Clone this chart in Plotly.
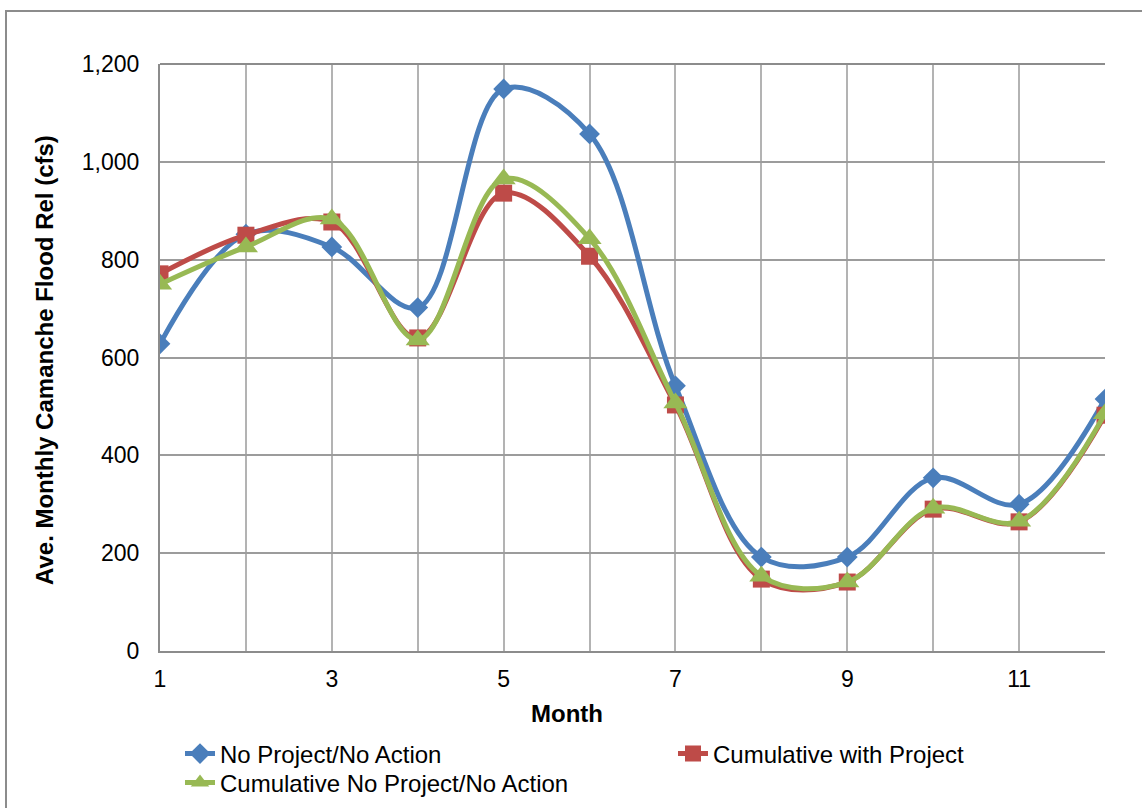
import plotly.graph_objects as go

# Monthly average Camanche flood releases (cfs)
months = list(range(1, 13))
no_project = [628, 852, 826, 702, 1149, 1057, 542, 192, 192, 354, 300, 515]
cum_with_project = [771, 850, 877, 640, 936, 807, 503, 147, 141, 290, 264, 482]
cum_no_project = [750, 826, 883, 636, 965, 843, 507, 153, 141, 292, 265, 485]

series = [
    ("No Project/No Action", no_project, "#4A7EBB", "diamond", 16, "legend"),
    ("Cumulative with Project", cum_with_project, "#BE4B48", "square", 17, "legend2"),
    ("Cumulative No Project/No Action", cum_no_project, "#98B954", "triangle-up", 21, "legend3"),
]

x_tickvals = months
x_ticktext = [str(m) if m % 2 == 1 else "" for m in months]
y_tickvals = [0, 200, 400, 600, 800, 1000, 1200]

FONT = "Liberation Sans, Arial, sans-serif"
W, H = 1142, 808
L, R, T, B = 160, 37, 64, 157
pw, ph = W - L - R, H - T - B

fig = go.Figure()
for name, vals, color, symbol, size, leg in series:
    fig.add_trace(go.Scatter(
        x=months, y=vals, name=name, mode="lines+markers", legend=leg,
        line=dict(color=color, width=5, shape="spline", smoothing=1.0),
        marker=dict(symbol=symbol, size=size, color=color),
    ))


def legend_at(px, py):
    return dict(
        xref="container", yref="container",
        x=px / W, xanchor="left", y=1 - py / H, yanchor="middle",
        font=dict(family=FONT, size=24, color="black"),
        bgcolor="rgba(0,0,0,0)", borderwidth=0,
    )


fig.update_layout(
    width=W, height=H,
    margin=dict(l=L, r=R, t=T, b=B, pad=0, autoexpand=False),
    paper_bgcolor="white", plot_bgcolor="white",
    font=dict(family=FONT, size=23, color="black"),
    showlegend=True,
    legend=legend_at(180, 754),
    legend2=legend_at(673, 754),
    legend3=legend_at(180, 783),
    xaxis=dict(
        range=[1, 12], tickmode="array", tickvals=x_tickvals, ticktext=x_ticktext,
        showgrid=True, gridcolor="#B3B3B3", gridwidth=1.5,
        showline=True, linecolor="#8C8C8C", linewidth=2,
        ticks="", zeroline=False, ticklabelstandoff=6,
        tickfont=dict(family=FONT, size=23),
    ),
    yaxis=dict(
        range=[0, 1200], tickmode="array", tickvals=y_tickvals,
        tickformat=",d",
        showgrid=True, gridcolor="#9C9C9C", gridwidth=1.5,
        showline=True, linecolor="#8C8C8C", linewidth=2,
        ticks="", zeroline=False, ticklabelstandoff=14,
        tickfont=dict(family=FONT, size=23),
    ),
)

# axis titles
fig.add_annotation(
    text="<b>Month</b>", xref="paper", yref="paper",
    x=(567 - L) / pw, y=-(713 - (H - B)) / ph, xanchor="center", yanchor="middle",
    showarrow=False, font=dict(family=FONT, size=24, color="black"),
)
fig.add_annotation(
    text="<b>Ave. Monthly Camanche Flood Rel (cfs)</b>", xref="paper", yref="paper",
    x=-(L - 45) / pw, y=(H - B - 360) / ph, xanchor="center", yanchor="middle",
    textangle=-90, showarrow=False, font=dict(family=FONT, size=24, color="black"),
)

# outer chart border (left and top edges visible, others run off the page)
fig.add_shape(
    type="rect", xref="paper", yref="paper",
    x0=(6 - L) / pw, x1=(W + 40 - L) / pw,
    y0=-0.6, y1=(H - B - 11) / ph,
    line=dict(color="#8C8C8C", width=2), fillcolor="rgba(0,0,0,0)", layer="below",
)
# top frame of the plot area
fig.add_shape(
    type="line", xref="paper", yref="paper", x0=0, x1=1, y0=1, y1=1,
    line=dict(color="#8C8C8C", width=2),
)

fig.write_html("out.html")
